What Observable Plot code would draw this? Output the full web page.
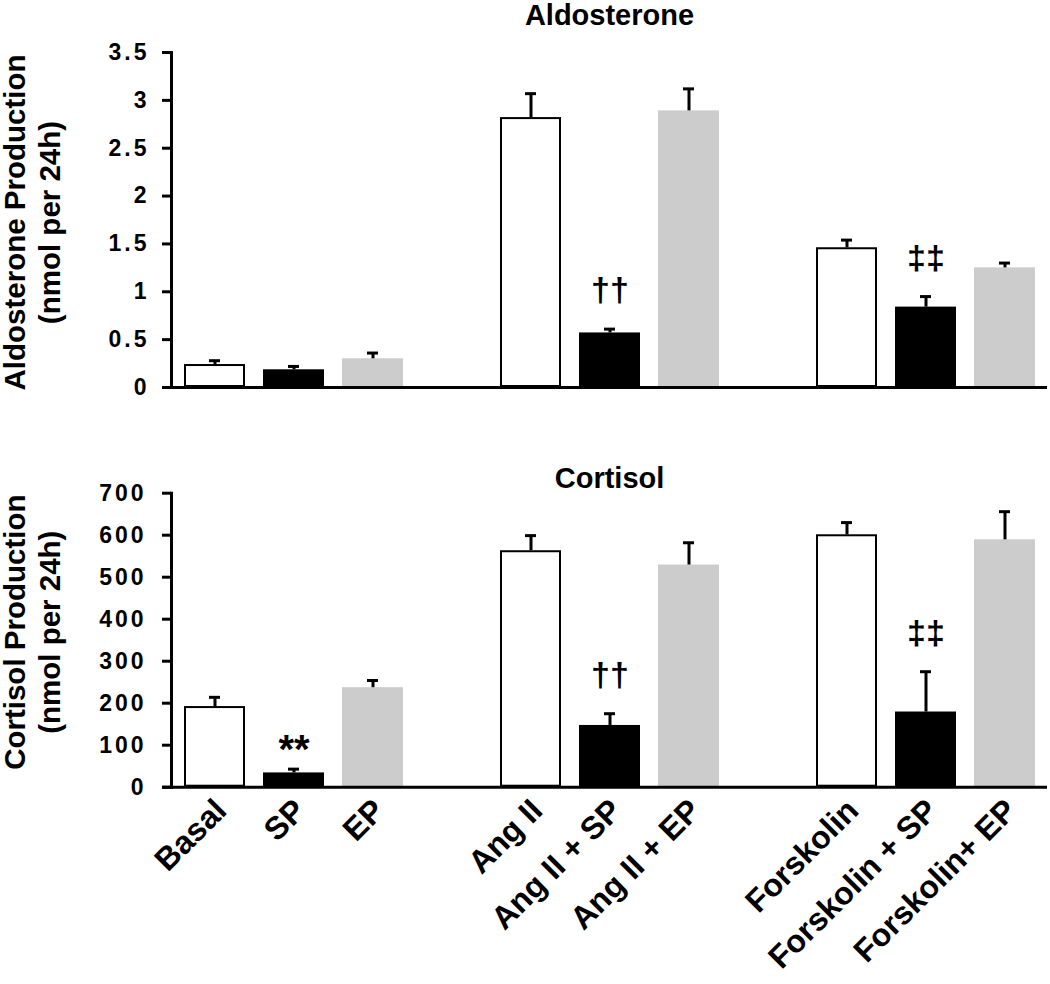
<!DOCTYPE html>
<html>
<head>
<meta charset="utf-8">
<script src="https://cdn.jsdelivr.net/npm/d3@7"></script>
<script src="https://cdn.jsdelivr.net/npm/@observablehq/plot@0.6"></script>
<style>
  html, body { margin: 0; padding: 0; background: white; }
  #chart { width: 1050px; font-family: "Liberation Sans", Arial, sans-serif; }
  #chart svg { display: block; }
  g[aria-label="y-axis tick label"] text { letter-spacing: 3px; }
</style>
</head>
<body>
<div id="chart"></div>
<script>
// ---- data ----
const categories = ["Basal", "SP", "EP", "Ang II", "Ang II + SP", "Ang II + EP", "Forskolin", "Forskolin + SP", "Forskolin+ EP"];
const treatment = ["control", "SP", "EP", "control", "SP", "EP", "control", "SP", "EP"];
const groupOf = [0, 0, 0, 1, 1, 1, 2, 2, 2];

const aldoMean = [0.24, 0.185, 0.30, 2.82, 0.57, 2.89, 1.46, 0.84, 1.25];
const aldoErr  = [0.04, 0.035, 0.06, 0.25, 0.04, 0.23, 0.08, 0.11, 0.05];
const aldoSig  = ["", "", "", "", "††", "", "", "‡‡", ""];

const cortMean = [192, 34, 237, 563, 147, 529, 601, 179, 589];
const cortErr  = [22, 9, 17, 36, 28, 53, 29, 96, 67];
const cortSig  = ["", "**", "", "", "††", "", "", "‡‡", ""];

const aldoTicks = [0, 0.5, 1, 1.5, 2, 2.5, 3, 3.5];
const cortTicks = [0, 100, 200, 300, 400, 500, 600, 700];

const aldoTitle = "Aldosterone";
const cortTitle = "Cortisol";
const aldoYLabel = "Aldosterone Production\n(nmol per 24h)";
const cortYLabel = "Cortisol Production\n(nmol per 24h)";

// ---- build x domain with spacer slots between groups ----
const xDomain = [];
categories.forEach((c, i) => {
  if (i > 0 && groupOf[i] !== groupOf[i - 1]) xDomain.push("gap" + groupOf[i]);
  xDomain.push(c);
});

const fills = {domain: ["control", "SP", "EP"], range: ["white", "black", "#cccccc"]};
const font = "'Liberation Sans', Arial, sans-serif";

function panel({mean, err, sig, ticks, title, ylabel, height, marginTop, marginBottom, tickPadding, titleDy, ylabelDy, showX}) {
  const data = categories.map((c, i) => ({cat: c, treat: treatment[i], mean: mean[i], top: mean[i] + err[i], sig: sig[i]}));
  const marks = [
    Plot.barY(data, {x: "cat", y: "mean", fill: "treat"}),
    Plot.barY(data.filter(d => d.treat === "control"), {x: "cat", y: "mean", fill: "none", stroke: "black", strokeWidth: 2, inset: 1}),
    Plot.ruleX(data, {x: "cat", y1: "mean", y2: "top", stroke: "black", strokeWidth: 3}),
    Plot.tickY(data, {x: "cat", y: "top", stroke: "black", strokeWidth: 3, insetLeft: 25, insetRight: 25}),
    Plot.text(data.filter(d => d.sig && d.sig !== "**"), {x: "cat", y: "top", text: "sig", lineAnchor: "bottom", dy: -28, fontSize: 34, fontWeight: "bold", fill: "black"}),
    Plot.text(data.filter(d => d.sig === "**"), {x: "cat", y: "top", text: "sig", lineAnchor: "bottom", dy: -6, fontSize: 40, fontWeight: "bold", fill: "black"}),
    Plot.ruleY([0], {stroke: "black", strokeWidth: 3, insetLeft: -9}),
    Plot.frame({anchor: "left", stroke: "black", strokeWidth: 3}),
    Plot.axisY(ticks, {tickSize: 9, tickPadding, tickFormat: d => String(d), fontSize: 23, fontWeight: "bold", strokeWidth: 3, label: null}),
    Plot.text([title], {frameAnchor: "top", textAnchor: "middle", lineAnchor: "bottom", dy: titleDy, fontSize: 29, fontWeight: "bold", fill: "black"}),
    Plot.text([ylabel], {frameAnchor: "left", textAnchor: "middle", rotate: -90, dx: -140, dy: ylabelDy, lineHeight: 1.18, lineAnchor: "middle", fontSize: 29.5, fontWeight: "bold", fill: "black"})
  ];
  if (showX) {
    marks.push(Plot.text(data, {x: "cat", frameAnchor: "bottom", text: "cat", rotate: -45, textAnchor: "end", lineAnchor: "middle", dx: 6, dy: 18, fontSize: 32, fontWeight: "bold", fill: "black"}));
  }
  return Plot.plot({
    width: 1050,
    height,
    marginLeft: 171,
    marginRight: 3,
    marginTop,
    marginBottom,
    style: {fontFamily: font, color: "black", background: "white", overflow: "visible"},
    x: {domain: xDomain, paddingInner: 0.23, paddingOuter: 0.115, axis: null},
    y: {domain: [ticks[0], ticks[ticks.length - 1]], axis: null},
    color: fills,
    marks
  });
}

const chart = document.getElementById("chart");
chart.append(panel({mean: aldoMean, err: aldoErr, sig: aldoSig, ticks: aldoTicks, title: aldoTitle, ylabel: aldoYLabel,
  height: 440, marginTop: 52, marginBottom: 53, tickPadding: 13, titleDy: -28, ylabelDy: 2.5, showX: false}));
chart.append(panel({mean: cortMean, err: cortErr, sig: cortSig, ticks: cortTicks, title: cortTitle, ylabel: cortYLabel,
  height: 544, marginTop: 52.7, marginBottom: 197.3, tickPadding: 16, titleDy: -5.7, ylabelDy: -8, showX: true}));
</script>
</body>
</html>
